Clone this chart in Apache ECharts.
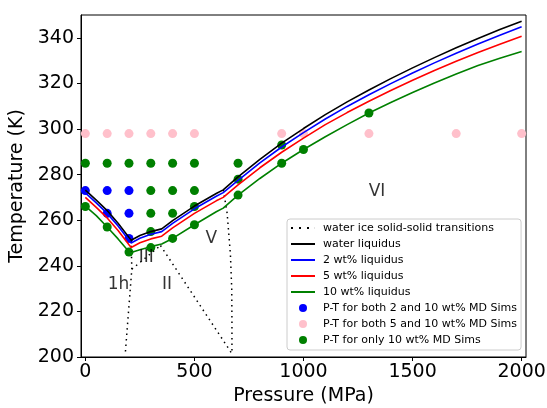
<!DOCTYPE html>
<html>
<head>
<meta charset="utf-8">
<script src="https://cdn.jsdelivr.net/npm/echarts@6/dist/echarts.min.js"></script>
<style>
  html, body { margin: 0; padding: 0; background: #fff; }
  #main { width: 547px; height: 408px; }
</style>
</head>
<body>
<div id="main"></div>
<script>
// pressure grid (MPa) for liquidus curves
const pressures = [0, 50, 100, 150, 200, 210, 250, 300, 350, 400, 500, 600, 632, 700, 800, 900, 1000, 1100, 1200, 1300, 1400, 1500, 1600, 1700, 1800, 1900, 2000];
const waterLiquidus = [273.2, 268.8, 264.2, 258.7, 252.4, 251.2, 253.3, 255.0, 256.2, 259.8, 266.2, 271.7, 273.3, 279.0, 286.7, 293.8, 300.2, 306.3, 311.9, 317.1, 322.1, 326.8, 331.3, 335.6, 339.7, 343.6, 347.3];
const liquidus2 = [272.0, 267.6, 263.0, 257.5, 251.2, 250.0, 252.1, 253.8, 255.0, 258.6, 265.0, 270.5, 272.1, 277.5, 285.1, 292.1, 298.4, 304.4, 309.9, 315.0, 319.9, 324.6, 329.0, 333.2, 337.3, 341.1, 344.8];
const liquidus5 = [270.0, 265.6, 261.0, 255.5, 249.2, 248.0, 250.1, 251.8, 253.0, 256.6, 263.0, 268.5, 270.0, 275.5, 283.0, 289.8, 296.0, 301.9, 307.2, 312.2, 316.9, 321.4, 325.7, 329.7, 333.6, 337.2, 340.7];
const liquidus10 = [266.2, 262.0, 257.0, 251.8, 246.2, 245.8, 247.0, 248.4, 249.6, 252.0, 258.0, 263.7, 265.3, 271.0, 278.3, 285.0, 291.0, 296.6, 301.9, 307.0, 311.6, 316.0, 320.2, 324.1, 327.8, 331.0, 334.0];

// solid-solid phase boundaries [P, T]
const boundaryIh = [[209.9, 251.2], [212.9, 238.5], [183, 201.5]];
const boundaryIIIII = [[212.9, 238.5], [344.3, 248.9]];
const boundaryIIV = [[344.3, 248.9], [671, 201.6]];
const boundaryVVI = [[632.4, 273.3], [650, 263], [665, 245], [671, 230], [672, 215], [672, 201.6]];

// MD simulation state points
const simBothP = [0, 100, 200, 100, 200, 200];
const simBothT = [273, 273, 273, 263, 263, 252];
const sim5P = [0, 100, 200, 300, 400, 500, 900, 1000, 1300, 1700, 2000];
const sim5T = [298, 298, 298, 298, 298, 298, 298, 298, 298, 298, 298];
const sim10P = [0, 100, 200, 300, 400, 500, 700, 300, 400, 500, 300, 400, 300, 0, 500, 100, 200, 300, 400, 500, 700, 700, 900, 900, 1000, 1300];
const sim10T = [285, 285, 285, 285, 285, 285, 285, 273, 273, 273, 263, 263, 255, 266, 266, 257, 246, 248, 252, 258, 278, 271, 293, 285, 291, 307];

// phase region labels
const regionNames = ["1h", "III", "II", "V", "VI"];
const regionP = [152, 279, 374, 577, 1337];
const regionT = [231.8, 243.6, 231.8, 252.0, 272.6];

const xTicks = [0, 500, 1000, 1500, 2000];
const yTicks = [200, 220, 240, 260, 280, 300, 320, 340];

const FONT = "DejaVu Sans";
const zip = (xs, ys) => xs.map((x, i) => [x, ys[i]]);

const trans = "water ice solid-solid transitions";
const boundarySeries = [boundaryIh, boundaryIIIII, boundaryIIV, boundaryVVI].map((d) => ({
  name: trans,
  type: "line",
  data: d,
  symbol: "none",
  z: 3,
  lineStyle: { color: "#000", width: 1.5, type: [1.5, 4] },
  color: "#000",
  silent: true,
}));

const liq = (name, vals, color) => ({
  name,
  type: "line",
  data: zip(pressures, vals),
  symbol: "none",
  z: 4,
  color,
  lineStyle: { color, width: 1.6 },
  silent: true,
});

const dots = (name, xs, ys, color) => ({
  name,
  type: "scatter",
  data: zip(xs, ys),
  symbol: "circle",
  symbolSize: 9,
  z: 2,
  color,
  itemStyle: { color, opacity: 1 },
  silent: true,
});

// legend handles: solid bar and dotted bar
const solidIcon = "path://M0,0h24v2h-24z";
const dottedIcon = "path://M0,0h2v2h-2zM8,0h2v2h-2zM16,0h2v2h-2zM23.9,0h0.1v2h-0.1z";

const chart = echarts.init(document.getElementById("main"), null, { renderer: "canvas" });

chart.setOption({
  animation: false,
  backgroundColor: "#fff",
  textStyle: { fontFamily: FONT },
  grid: {
    left: 81, right: 21, top: 15, bottom: 51,
    outerBoundsMode: "none",
    containLabel: false,
    show: true, borderColor: "#000", borderWidth: 1, backgroundColor: "transparent",
  },
  legend: {
    orient: "vertical",
    left: 287, top: 219,
    padding: [2, 4, 3, 4],
    itemGap: 2,
    itemWidth: 24,
    itemHeight: 8,
    backgroundColor: "rgba(255,255,255,0.8)",
    borderColor: "#cccccc",
    borderWidth: 1,
    borderRadius: 3,
    textStyle: { fontFamily: FONT, fontSize: 11, color: "#000", lineHeight: 14, padding: [0, 0, 0, 3] },
    data: [
      { name: trans, icon: dottedIcon },
      { name: "water liquidus", icon: solidIcon },
      { name: "2 wt% liquidus", icon: solidIcon },
      { name: "5 wt% liquidus", icon: solidIcon },
      { name: "10 wt% liquidus", icon: solidIcon },
      { name: "P-T for both 2 and 10 wt% MD Sims", icon: "circle" },
      { name: "P-T for both 5 and 10 wt% MD Sims", icon: "circle" },
      { name: "P-T for only 10 wt% MD Sims", icon: "circle" },
    ],
  },
  xAxis: {
    type: "value",
    min: -20, max: 2020,
    name: "Pressure (MPa)",
    nameLocation: "middle",
    nameGap: 30,
    nameTextStyle: { fontFamily: FONT, fontSize: 19, color: "#000" },
    splitLine: { show: false },
    axisLine: { show: true, onZero: false, lineStyle: { color: "#000" } },
    axisTick: { show: true, inside: false, length: 4, lineStyle: { color: "#000" }, customValues: xTicks },
    axisLabel: { fontFamily: FONT, fontSize: 19, color: "#000", margin: 6, customValues: xTicks, formatter: (v) => String(v) },
  },
  yAxis: {
    type: "value",
    min: 200, max: 350,
    name: "Temperature (K)",
    nameLocation: "middle",
    nameGap: 47,
    nameTextStyle: { fontFamily: FONT, fontSize: 19, color: "#000" },
    splitLine: { show: false },
    axisLine: { show: true, onZero: false, lineStyle: { color: "#000" } },
    axisTick: { show: true, inside: false, length: 4, lineStyle: { color: "#000" }, customValues: yTicks },
    axisLabel: { fontFamily: FONT, fontSize: 19, color: "#000", margin: 7, customValues: yTicks, formatter: (v) => String(v) },
  },
  series: [
    dots("P-T for both 2 and 10 wt% MD Sims", simBothP, simBothT, "#0000ff"),
    dots("P-T for both 5 and 10 wt% MD Sims", sim5P, sim5T, "#ffc0cb"),
    dots("P-T for only 10 wt% MD Sims", sim10P, sim10T, "#008000"),
    ...boundarySeries,
    liq("water liquidus", waterLiquidus, "#000000"),
    liq("2 wt% liquidus", liquidus2, "#0000ff"),
    liq("5 wt% liquidus", liquidus5, "#ff0000"),
    liq("10 wt% liquidus", liquidus10, "#008000"),
    {
      name: "regions",
      type: "scatter",
      data: regionNames.map((n, i) => ({ name: n, value: [regionP[i], regionT[i]] })),
      symbolSize: 1,
      itemStyle: { color: "rgba(0,0,0,0)" },
      z: 5,
      silent: true,
      label: {
        show: true,
        position: "inside",
        formatter: "{b}",
        fontFamily: FONT,
        fontSize: 17,
        color: "#000",
      },
    },
  ],
});
</script>
</body>
</html>
